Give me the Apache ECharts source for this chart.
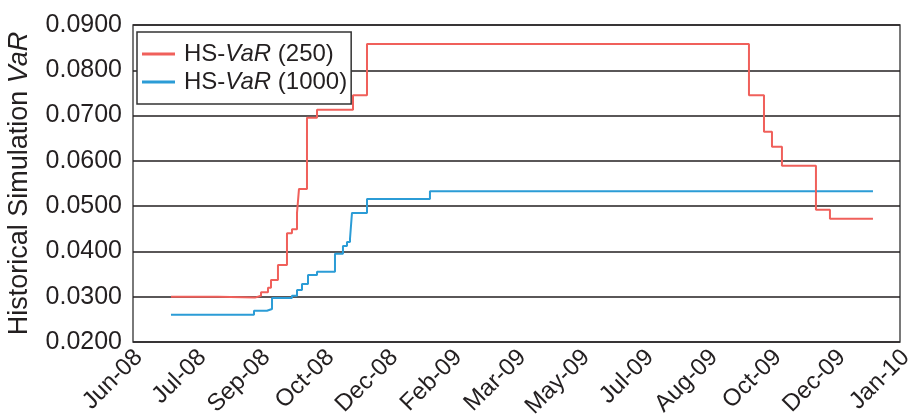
<!DOCTYPE html>
<html>
<head>
<meta charset="utf-8">
<script src="https://cdn.jsdelivr.net/npm/echarts@6/dist/echarts.min.js"></script>
<style>
  html, body { margin: 0; padding: 0; background: #fff; }
  #chart { width: 910px; height: 418px; }
</style>
</head>
<body>
<div id="chart"></div>
<script>
// x positions are in tick units (0 = Jun-08 ... 12 = Jan-10)
var tickLabels = ['Jun-08', 'Jul-08', 'Sep-08', 'Oct-08', 'Dec-08', 'Feb-09', 'Mar-09',
                  'May-09', 'Jul-09', 'Aug-09', 'Oct-09', 'Dec-09', 'Jan-10'];

// HS-VaR (250): points where the step value changes
var var250X = [0.594, 1.330, 1.909, 2.003, 2.112, 2.159, 2.268, 2.409, 2.487, 2.566, 2.597,
               2.722, 2.879, 3.442, 3.661, 9.637, 9.872, 9.997, 10.153, 10.685, 10.904, 11.577];
var var250Y = [0.0300, 0.0298, 0.0302, 0.0310, 0.0320, 0.0337, 0.0370, 0.0440, 0.0449, 0.0485, 0.0538,
               0.0695, 0.0713, 0.0745, 0.0858, 0.0745, 0.0664, 0.0631, 0.0589, 0.0492, 0.0472, 0.0472];

// HS-VaR (1000)
var var1000X = [0.594, 1.893, 2.096, 2.175, 2.487, 2.566, 2.644, 2.738, 2.879, 3.160, 3.285,
                3.348, 3.395, 3.426, 3.661, 4.646, 11.577];
var var1000Y = [0.0260, 0.0269, 0.0273, 0.0297, 0.0302, 0.0315, 0.0328, 0.0348, 0.0355, 0.0395, 0.0412,
                0.0421, 0.0428, 0.0485, 0.0516, 0.0533, 0.0533];

var FONT = '"Liberation Sans", Arial, sans-serif';
var INK  = '#231f20';

function pairs(xs, ys) {
  var out = [];
  for (var i = 0; i < xs.length; i++) out.push([xs[i], ys[i]]);
  return out;
}

var chart = echarts.init(document.getElementById('chart'));

var option = {
  animation: false,
  textStyle: { fontFamily: FONT, color: INK },
  grid: {
    left: 133, right: 10, top: 25, bottom: 76,
    outerBoundsMode: 'none',
    containLabel: false,
    show: true, borderColor: '#4d4d4d', borderWidth: 1.5, backgroundColor: 'transparent'
  },
  legend: {
    orient: 'vertical',
    left: 137, top: 32,
    backgroundColor: '#fff',
    borderColor: '#333', borderWidth: 1.5, borderRadius: 0,
    padding: [10, 4, 10, 5],
    itemGap: 4,
    itemWidth: 33, itemHeight: 3,
    icon: 'rect',
    formatter: function(name) {
      var m = name.match(/^HS-VaR (.*)$/);
      return '{h|HS-}{i|VaR}{n| ' + m[1] + '}';
    },
    textStyle: {
      rich: {
        h: { fontFamily: FONT, fontSize: 24, color: INK, padding: [0, 0, 0, 4] },
        n: { fontFamily: FONT, fontSize: 24, color: INK },
        i: { fontFamily: FONT, fontSize: 24, color: INK, fontStyle: 'italic' }
      }
    },
    data: ['HS-VaR (250)', 'HS-VaR (1000)']
  },
  xAxis: {
    type: 'value',
    min: 0, max: 12, interval: 1,
    axisLine: { show: false },
    axisTick: { show: false },
    splitLine: { show: false },
    axisLabel: {
      rotate: 45,
      fontSize: 24,
      lineHeight: 16,
      fontFamily: FONT,
      color: INK,
      margin: 6,
      verticalAlign: 'top',
      showMinLabel: true, showMaxLabel: true,
      formatter: function(v) { return tickLabels[Math.round(v)] || ''; }
    }
  },
  yAxis: {
    type: 'value',
    min: 0.02, max: 0.09, interval: 0.01,
    name: '{n|Historical Simulation }{i|VaR}',
    nameLocation: 'middle',
    nameGap: 100,
    nameTextStyle: {
      rich: {
        n: { fontFamily: FONT, fontSize: 27, color: INK },
        i: { fontFamily: FONT, fontSize: 27, color: INK, fontStyle: 'italic' }
      }
    },
    axisLine: { show: false },
    axisTick: { show: false },
    splitLine: { show: true, lineStyle: { color: INK, width: 1.5 } },
    axisLabel: {
      fontSize: 25,
      fontFamily: FONT,
      color: INK,
      margin: 11,
      formatter: function(v) { return v.toFixed(4); }
    }
  },
  series: [
    {
      name: 'HS-VaR (250)',
      type: 'line',
      step: 'end',
      showSymbol: false,
      data: pairs(var250X, var250Y),
      itemStyle: { color: '#f0605b' },
      lineStyle: { color: '#f0605b', width: 2 },
      z: 3
    },
    {
      name: 'HS-VaR (1000)',
      type: 'line',
      step: 'end',
      showSymbol: false,
      data: pairs(var1000X, var1000Y),
      itemStyle: { color: '#2b9cd6' },
      lineStyle: { color: '#2b9cd6', width: 2 },
      z: 2
    }
  ]
};

chart.setOption(option);
</script>
</body>
</html>
